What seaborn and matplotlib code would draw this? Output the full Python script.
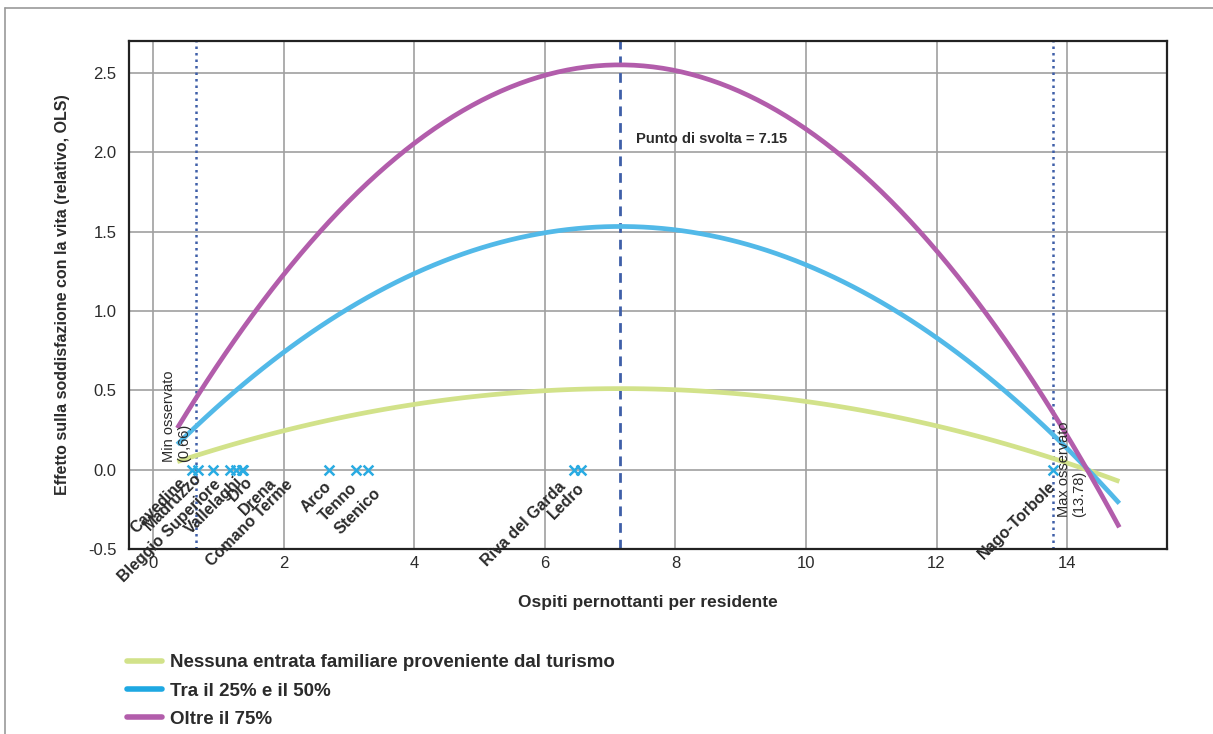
import numpy as np
import pandas as pd
import matplotlib
matplotlib.use("Agg")
import matplotlib.pyplot as plt
from matplotlib.lines import Line2D
import seaborn as sns

# ---------------- data ----------------
x_vals = [0.37, 1.0, 1.5, 2.0, 2.5, 3.0, 3.5, 4.0, 4.5, 5.0, 5.5, 6.0, 6.5, 7.0,
          7.5, 8.0, 8.5, 9.0, 9.5, 10.0, 10.5, 11.0, 11.5, 12.0, 12.5, 13.0,
          13.5, 14.0, 14.5, 14.8]
y_none = [0.05, 0.13, 0.19, 0.25, 0.29, 0.34, 0.38, 0.41, 0.44, 0.46, 0.48, 0.50,
          0.51, 0.51, 0.51, 0.50, 0.49, 0.48, 0.46, 0.43, 0.40, 0.36, 0.32, 0.27,
          0.22, 0.17, 0.11, 0.04, -0.03, -0.07]
y_mid = [0.16, 0.40, 0.58, 0.74, 0.89, 1.02, 1.13, 1.23, 1.32, 1.39, 1.45, 1.49,
         1.52, 1.53, 1.53, 1.51, 1.48, 1.43, 1.37, 1.29, 1.20, 1.09, 0.97, 0.83,
         0.68, 0.51, 0.33, 0.13, -0.08, -0.21]
y_high = [0.26, 0.67, 0.96, 1.23, 1.47, 1.69, 1.89, 2.06, 2.20, 2.32, 2.41, 2.48,
          2.53, 2.55, 2.54, 2.51, 2.46, 2.38, 2.28, 2.15, 1.99, 1.81, 1.61, 1.38,
          1.12, 0.85, 0.54, 0.21, -0.14, -0.36]
series_names = ["Nessuna entrata familiare proveniente dal turismo",
                "Tra il 25% e il 50%",
                "Oltre il 75%"]

municipalities = ["Cavedine", "Madruzzo", "Bleggio Superiore", "Vallelaghi", "Dro",
                  "Drena", "Comano Terme", "Arco", "Tenno", "Stenico",
                  "Riva del Garda", "Ledro", "Nago-Torbole"]
muni_x = [0.59, 0.69, 0.92, 1.18, 1.27, 1.36, 1.38, 2.70, 3.11, 3.29, 6.45, 6.55, 13.78]
muni_y = [0.0] * len(municipalities)

min_obs = 0.66
max_obs = 13.78
turning_point = 7.15

x_ticks = [0, 2, 4, 6, 8, 10, 12, 14]
y_ticks = [-0.5, 0.0, 0.5, 1.0, 1.5, 2.0, 2.5]

# ---------------- styling / layout ----------------
colors = ["#d2e28a", "#52b9e8", "#b25dab"]
legend_colors = ["#d2e28a", "#1ea8e2", "#b25dab"]
ref_blue = "#3f5fa8"
marker_blue = "#29abe2"
text_col = "#2b2b2b"

# label anchor nudges in pixels (dx right, dy down) relative to marker
label_nudge = {
    "Cavedine": (-13, 6), "Madruzzo": (-4, 1), "Bleggio Superiore": (0, 7),
    "Vallelaghi": (5, 4), "Dro": (9, 4), "Drena": (27, 6), "Comano Terme": (42, 7),
    "Arco": (-6, 9), "Tenno": (-7, 11), "Stenico": (5, 16),
    "Riva del Garda": (-16, 9), "Ledro": (-4, 11), "Nago-Torbole": (-5, 9),
}

sns.set_theme(style="white")
plt.rcParams["font.family"] = ["Liberation Sans", "DejaVu Sans"]

W, H = 1213, 734
fig = plt.figure(figsize=(W / 100, H / 100), dpi=100)
ax = fig.add_axes([129 / W, 1 - 549 / H, (1167 - 129) / W, (549 - 41) / H])

# fitted quadratic curves through the read points (seaborn's own polynomial fit)
for yv, c in zip([y_none, y_mid, y_high], colors):
    sns.regplot(x=np.array(x_vals), y=np.array(yv), order=2, ci=None, scatter=False,
                truncate=True, ax=ax,
                line_kws={"color": c, "lw": 3.4, "zorder": 3,
                          "solid_capstyle": "butt"})

# reference lines
ax.axvline(min_obs, color=ref_blue, lw=1.8, ls=(0, (1, 1.6)), zorder=2)
ax.axvline(max_obs, color=ref_blue, lw=1.8, ls=(0, (1, 1.6)), zorder=2)
ax.axvline(turning_point, color=ref_blue, lw=2.0, ls=(0, (3.5, 2.5)), zorder=2)

# municipalities
mdf = pd.DataFrame({"x": muni_x, "y": muni_y, "name": municipalities})
sns.scatterplot(data=mdf, x="x", y="y", marker="x", color=marker_blue, s=50,
                linewidth=1.8, ax=ax, zorder=4)
for name, mx, my in zip(municipalities, muni_x, muni_y):
    dx, dy = label_nudge[name]
    ax.annotate(name, xy=(mx, my), xytext=(dx, -dy), textcoords="offset pixels",
                rotation=45, ha="right", va="top", rotation_mode="anchor",
                fontsize=11.5, fontweight="bold", color=text_col, zorder=5)

# annotations
ax.annotate("Min osservato\n(0,66)", xy=(min_obs, 0.045), xytext=(-5, 0),
            textcoords="offset pixels", rotation=90, ha="right", va="bottom",
            multialignment="left", fontsize=10.5, color=text_col, linespacing=1.1)
ax.annotate("Max osservato\n(13.78)", xy=(max_obs, -0.3), xytext=(4, 0),
            textcoords="offset pixels", rotation=90, ha="left", va="bottom",
            multialignment="left", fontsize=10.5, color=text_col, linespacing=1.1)
ax.annotate(f"Punto di svolta = {turning_point}", xy=(turning_point, 2.085),
            xytext=(16, 0), textcoords="offset pixels", ha="left", va="center",
            fontsize=10.6, fontweight="bold", color=text_col)

# axes
ax.set_xlim(-0.37, 15.53)
ax.set_ylim(-0.5, 2.7)
ax.set_xticks(x_ticks)
ax.set_yticks(y_ticks)
ax.set_yticklabels([f"{v:.1f}" for v in y_ticks])
ax.grid(True, color="#a0a0a0", lw=1.2, zorder=0)
ax.set_axisbelow(True)
ax.tick_params(axis="both", length=0, labelsize=12, colors=text_col)
ax.tick_params(axis="x", pad=5)
ax.tick_params(axis="y", pad=9)
for s in ax.spines.values():
    s.set_color("#222222")
    s.set_linewidth(1.6)
ax.set_xlabel("Ospiti pernottanti per residente", fontsize=12.5, fontweight="bold",
              color=text_col, labelpad=17)
ax.set_ylabel("Effetto sulla soddisfazione con la vita (relativo, OLS)", fontsize=11.5,
              fontweight="bold", color=text_col, labelpad=13)

# legend
handles = [Line2D([0], [0], color=c, lw=4) for c in legend_colors]
fig.legend(handles, series_names, loc="upper left",
           bbox_to_anchor=(127 / W, 1 - 654 / H), bbox_transform=fig.transFigure,
           frameon=False, handlelength=1.85, handletextpad=0.42,
           labelspacing=0.6, borderpad=0, borderaxespad=0,
           prop={"weight": "bold", "size": 13.5})
for t in fig.legends[0].get_texts():
    t.set_color(text_col)

# figure frame (top and left edges visible)
fig.add_artist(Line2D([5 / W, 5 / W], [0, 1 - 8 / H], transform=fig.transFigure,
                      color="#9a9a9a", lw=1.2))
fig.add_artist(Line2D([5 / W, 1], [1 - 8 / H, 1 - 8 / H], transform=fig.transFigure,
                      color="#9a9a9a", lw=1.2))

fig.savefig("out.png", dpi=100)
